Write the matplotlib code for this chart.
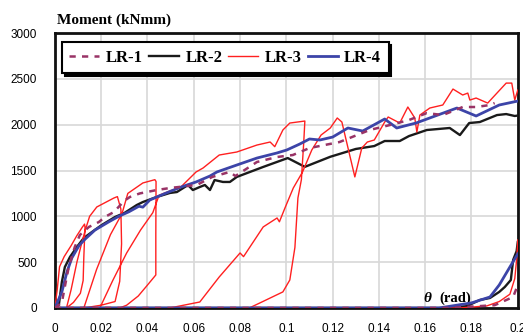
import numpy as np
import matplotlib
matplotlib.use("Agg")
import matplotlib.pyplot as plt

# LR-1 (dashed purple) - envelope and return branch along the axis
lr1_theta = [0, 0.003, 0.0045, 0.006, 0.0086, 0.0108, 0.0147, 0.019, 0.0216, 0.0255,
             0.030, 0.0324, 0.0367, 0.044, 0.05, 0.0613, 0.068, 0.0755, 0.078, 0.0873,
             0.0959, 0.1028, 0.110, 0.123, 0.136, 0.1447, 0.153, 0.1607, 0.1676, 0.1762,
             0.182, 0.188, 0.19]
lr1_moment = [0, 60, 260, 450, 666, 797, 884, 938, 993, 1047,
              1170, 1211, 1250, 1287, 1310, 1342, 1430, 1484, 1440, 1593,
              1647, 1669, 1745, 1811, 1942, 1996, 2051, 2127, 2105, 2193,
              2193, 2215, 2236]
lr1_tail_theta = [0, 0.17, 0.19, 0.198, 0.2]
lr1_tail_moment = [0, 0, 30, 120, 250]

# LR-2 (black)
lr2_theta = [0, 0.0017, 0.003, 0.0043, 0.0065, 0.0095, 0.0125, 0.016, 0.0203, 0.026,
             0.030, 0.0354, 0.038, 0.044, 0.0497, 0.0527, 0.0575, 0.0596, 0.0626, 0.0648,
             0.067, 0.069, 0.0726, 0.0756, 0.0786, 0.0899, 0.1006, 0.108, 0.119, 0.130,
             0.138, 0.1425, 0.149, 0.153, 0.1607, 0.1706, 0.175, 0.179, 0.1836, 0.191,
             0.195, 0.1987, 0.2]
lr2_moment = [0, 33, 284, 447, 556, 666, 764, 829, 906, 993,
              1036, 1124, 1156, 1211, 1255, 1265, 1342, 1287, 1320, 1342,
              1287, 1396, 1375, 1375, 1430, 1538, 1636, 1540, 1650, 1735,
              1767, 1822, 1822, 1876, 1942, 1964, 1887, 2018, 2029, 2105,
              2116, 2095, 2100]
lr2_tail_theta = [0, 0.17, 0.178, 0.1836, 0.188, 0.192, 0.1944, 0.197, 0.198, 0.1995, 0.2]
lr2_tail_moment = [0, 0, 20, 87, 109, 175, 229, 305, 524, 620, 720]

# LR-3 (red) - cyclic loops
lr3_theta = [0, 0.001, 0.002, 0.004, 0.007, 0.0095, 0.0118, 0.0128,
             0.0130, 0.0125, 0.0122, 0.011, 0.008, 0.005,
             0.007, 0.0095, 0.0115, 0.013, 0.015, 0.0181, 0.0255, 0.027,
             0.0285, 0.0288, 0.028, 0.026, 0.020, 0.0125,
             0.018, 0.024, 0.029, 0.0315, 0.038, 0.0432,
             0.0437, 0.0436, 0.0436, 0.040, 0.036, 0.031, 0.028,
             0.0194, 0.025, 0.031, 0.037, 0.0423, 0.045, 0.05, 0.054, 0.061,
             0.064, 0.071, 0.0786, 0.0873, 0.093, 0.095, 0.0985, 0.1015, 0.108,
             0.1075, 0.1065, 0.105, 0.1037, 0.1015, 0.0985, 0.0886, 0.084,
             0.0497, 0.0626, 0.071, 0.080, 0.0815, 0.090, 0.096, 0.097, 0.0994,
             0.103, 0.107, 0.111, 0.115, 0.119, 0.122, 0.124, 0.1296, 0.1326,
             0.135, 0.138, 0.1425, 0.144, 0.149, 0.1525, 0.1555, 0.1564, 0.1577,
             0.162, 0.1676, 0.172, 0.1762, 0.1784, 0.1793, 0.182, 0.187, 0.1914,
             0.195, 0.1974, 0.1987, 0.2]
lr3_moment = [0, 200, 450, 560, 680, 790, 880, 915,
              880, 560, 300, 160, 60, 0,
              200, 500, 700, 840, 1000, 1102, 1200, 1215,
              1080, 700, 290, 70, 30, 0,
              420, 800, 1030, 1250, 1364, 1400,
              1380, 800, 360, 250, 130, 30, 0,
              0, 300, 600, 850, 1040, 1230, 1280, 1310, 1484,
              1527, 1669, 1702, 1778, 1811, 1760, 1942, 2018, 2040,
              1800, 1400, 1200, 660, 305, 175, 55, 0,
              0, 65, 338, 600, 560, 884, 982, 940, 1091,
              1309, 1484, 1724, 1887, 1964, 2073, 2029, 1430, 1745,
              1811, 1833, 2029, 2084, 2018, 2193, 2073, 1920, 2105,
              2182, 2215, 2389, 2324, 2345, 2269, 2291, 2236, 2356,
              2454, 2454, 2269, 2378]
lr3_tail_theta = [0.165, 0.175, 0.1866, 0.192, 0.1966, 0.1987, 0.1996, 0.2]
lr3_tail_moment = [0, 0, 22, 70, 150, 320, 550, 742]

# LR-4 (blue)
lr4_theta = [0, 0.003, 0.0052, 0.0073, 0.0104, 0.013, 0.0173, 0.0233, 0.0276, 0.032,
             0.0363, 0.038, 0.041, 0.0467, 0.054, 0.061, 0.067, 0.070, 0.0786, 0.0873,
             0.0959, 0.1002, 0.1058, 0.110, 0.1145, 0.120, 0.1266, 0.133, 0.1425, 0.1477,
             0.156, 0.1737, 0.182, 0.192, 0.2]
lr4_moment = [0, 175, 393, 545, 680, 750, 850, 940, 1000, 1050,
              1110, 1100, 1178, 1240, 1315, 1375, 1440, 1484, 1560, 1636,
              1691, 1724, 1789, 1844, 1833, 1865, 1964, 1931, 2062, 1964,
              2018, 2182, 2095, 2215, 2258]
lr4_tail_theta = [0, 0.166, 0.18, 0.188, 0.192, 0.1966, 0.2]
lr4_tail_moment = [0, 0, 55, 120, 251, 447, 590]

xtick_vals = [0, 0.02, 0.04, 0.06, 0.08, 0.1, 0.12, 0.14, 0.16, 0.18, 0.2]
xtick_labels = ["0", "0.02", "0.04", "0.06", "0.08", "0.1", "0.12", "0.14", "0.16", "0.18", "0.2"]
ytick_vals = [0, 500, 1000, 1500, 2000, 2500, 3000]


def join(a, b, c, d):
    # main branch + NaN break + return branch
    return (np.r_[a, np.nan, c], np.r_[b, np.nan, d])


fig = plt.figure(figsize=(5.23, 3.34), dpi=100)
ax = fig.add_axes([0.105, 0.078, 0.885, 0.823])

x, y = join(lr2_theta, lr2_moment, lr2_tail_theta, lr2_tail_moment)
ax.plot(x, y, color="#1a1a1a", lw=1.7, label="LR-2", zorder=3)
x, y = join(lr3_theta, lr3_moment, lr3_tail_theta, lr3_tail_moment)
ax.plot(x, y, color="#ff2020", lw=1.0, label="LR-3", zorder=4)
x, y = join(lr4_theta, lr4_moment, lr4_tail_theta, lr4_tail_moment)
ax.plot(x, y, color="#3c44a8", lw=2.0, label="LR-4", zorder=5)
x, y = join(lr1_theta, lr1_moment, lr1_tail_theta, lr1_tail_moment)
ax.plot(x, y, color="#993366", lw=1.8, ls=(0, (2.5, 2.5)), label="LR-1", zorder=6)

ax.set_xlim(0, 0.2)
ax.set_ylim(0, 3000)
ax.set_xticks(xtick_vals)
ax.set_xticklabels(xtick_labels)
ax.set_yticks(ytick_vals)
ax.tick_params(length=0, labelsize=8.5, pad=11)
ax.tick_params(axis="y", pad=13)
for lab in ax.get_xticklabels() + ax.get_yticklabels():
    lab.set_family("Liberation Sans")
ax.grid(True, color="#d8d8d8", lw=1.2)
ax.set_axisbelow(True)
for sp in ax.spines.values():
    sp.set_linewidth(2)
    sp.set_color("#111111")

fig.text(0.109, 0.928, "Moment (kNmm)", family="Liberation Serif", weight="bold", fontsize=11)
ax.text(0.1593, 62, "θ", family="Liberation Serif", weight="bold", style="italic", fontsize=11)
ax.text(0.1663, 62, "(rad)", family="Liberation Serif", weight="bold", fontsize=10.5)

handles, labels = ax.get_legend_handles_labels()
order = [3, 0, 1, 2]
leg = ax.legend([handles[i] for i in order], [labels[i] for i in order],
                loc="upper left", bbox_to_anchor=(0.015, 0.855, 0.706, 0.112),
                mode="expand", ncol=4, borderaxespad=0, fancybox=False,
                shadow={"color": "black", "alpha": 1}, framealpha=1,
                edgecolor="black", handlelength=1.8, handletextpad=0.4,
                columnspacing=1.0, borderpad=0.45,
                prop={"family": "Liberation Serif", "weight": "bold", "size": 12})
leg.get_frame().set_linewidth(1.5)

fig.savefig("out.png", dpi=100)
